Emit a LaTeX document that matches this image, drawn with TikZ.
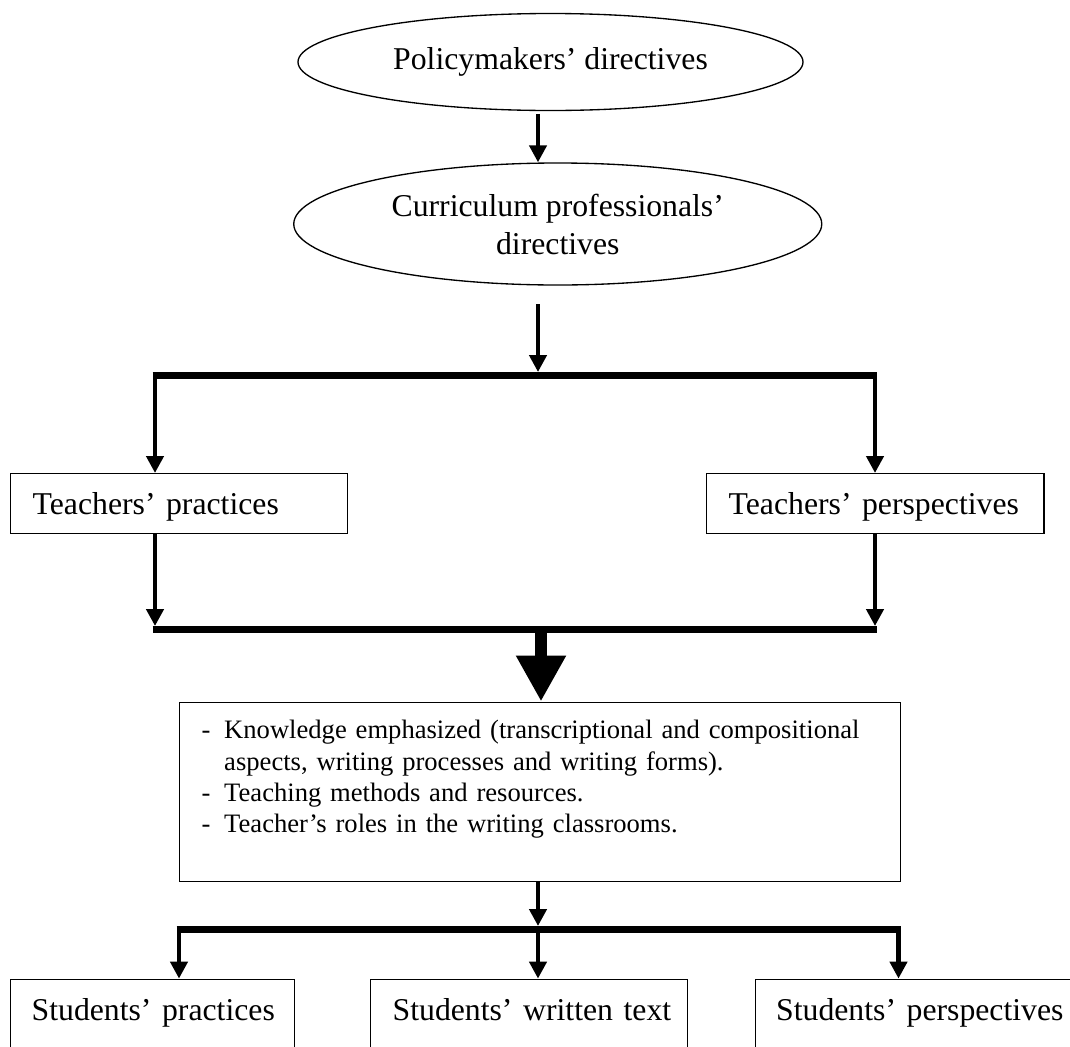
\documentclass[tikz,border=0pt]{standalone}
\usepackage{fontspec}
\setmainfont{Liberation Serif}
\usetikzlibrary{arrows, arrows.meta}
\usetikzlibrary{calc}
\usetikzlibrary{shapes.geometric}

\newcommand{\dashitem}{\makebox[16.9pt][l]{-}}

\begin{document}
\begin{tikzpicture}[x=0.75pt, y=-0.75pt,
      oval/.style={ellipse, draw, line width=1pt, inner sep=0pt, align=center, font=\fontsize{23.8}{28.5}\selectfont},
      box/.style={rectangle, draw, line width=1pt, anchor=north west, inner ysep=0pt, align=left, text height=30.75pt, font=\fontsize{23.8}{28.5}\selectfont},
      arr/.style={line width=3.4pt, -{Triangle[width=12.75pt, length=12.75pt]}},
      bar/.style={line width=5.25pt, shorten <=-1.7pt, shorten >=-1.7pt},
      bigarr/.style={line width=9pt, -{Triangle[width=35.25pt, length=34.5pt]}}]
      \useasboundingbox (0,0) rectangle (1070,1046);
      \clip (0,0) rectangle (1070,1046);

      \node[oval, minimum width=378.75pt, minimum height=72.75pt] (policy) at (550.5,62) {Policymakers’ directives};
      \node[oval, minimum width=396pt, minimum height=91.5pt] (curric) at (557.75,224) {Curriculum professionals’\\directives};

      \coordinate (spine) at (538,304);
      \coordinate (tl) at (155,375.5);
      \coordinate (tr) at (875,375.5);
      \coordinate (ml) at (155,629.5);
      \coordinate (mr) at (875,629.5);
      \coordinate (mc) at (541,629.5);
      \coordinate (bl) at (179,929.75);
      \coordinate (br) at (898.5,929.75);

      \node[box, text width=219.75pt, inner xsep=16.5pt, text depth=14.25pt] (tprac) at (10,473) {\mbox{Teachers’ practices}};
      \node[box, text width=220.1pt, inner xsep=16.5pt, text depth=14.25pt] (tpers) at (706,473) {\mbox{Teachers’ perspectives}};

      \node[box, text width=507pt, inner xsep=16.9pt, text height=27.4pt, text depth=107.25pt, font=\fontsize{19.95}{23.5}\selectfont] (know) at (178.5,701.5) {\dashitem Knowledge emphasized (transcriptional and compositional\\
      \hspace*{16.9pt}aspects, writing processes and writing forms).\\
      \dashitem Teaching methods and resources.\\
      \dashitem Teacher’s roles in the writing classrooms.};

      \node[box, text width=181.5pt, inner xsep=15.75pt, text depth=60pt] (sprac) at (10,978.6) {\mbox{Students’ practices}};
      \node[box, text width=204.75pt, inner xsep=16.5pt, text depth=60pt] (stext) at (370,978.6) {\mbox{Students’ written text}};
      \node[box, text width=240pt, inner xsep=15.75pt, text depth=60pt] (spers) at (754.5,978.6) {\mbox{Students’ perspectives}};

      \draw[arr, shorten <=2pt] (policy.south -| spine) -- (curric.north -| spine);
      \draw[arr, shorten >=2.6pt] (spine) -- (spine |- tl);
      \draw[bar] (tl) -- (tr);
      \draw[arr] (tl) -- (tl |- tprac.north);
      \draw[arr] (tr) -- (tr |- tpers.north);
      \draw[arr, shorten >=2.6pt] (tl |- tprac.south) -- (ml);
      \draw[arr, shorten >=2.6pt] (tr |- tpers.south) -- (mr);
      \draw[bar] (ml) -- (mr);
      \draw[bigarr] (mc) -- (mc |- know.north);
      \draw[arr, shorten >=2.8pt] (know.south -| spine) -- (spine |- bl);
      \draw[bar] (bl) -- (br);
      \draw[arr] (bl) -- (bl |- sprac.north);
      \draw[arr] (spine |- bl) -- (spine |- stext.north);
      \draw[arr] (br) -- (br |- spers.north);
    \end{tikzpicture}
\end{document}
